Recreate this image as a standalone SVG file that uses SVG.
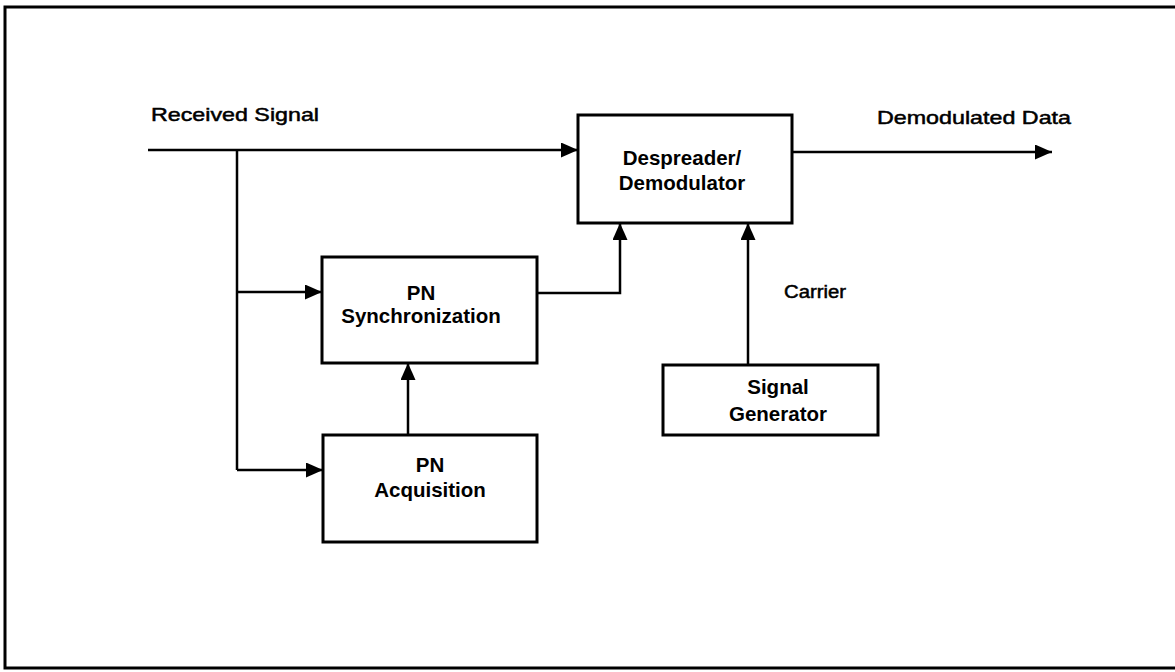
<svg xmlns="http://www.w3.org/2000/svg" width="1175" height="672" viewBox="0 0 1175 672">
<style>
.box{fill:#fff;stroke:#000;stroke-width:3}
.bt{font-family:"Liberation Sans",Arial,sans-serif;font-weight:bold;font-size:20.5px;text-anchor:middle;fill:#000}
.lb{font-family:"Liberation Sans",Arial,sans-serif;font-size:19px;fill:#000;stroke:#000;stroke-width:0.5}
.ln{fill:none;stroke:#000;stroke-width:2.5}
</style>
<defs>
<marker id="ah" markerWidth="17" markerHeight="15" refX="17" refY="7.5" orient="auto" markerUnits="userSpaceOnUse">
<path d="M0,0 L17,7.5 L0,15 Z" fill="#000"/>
</marker>
</defs>
<rect x="0" y="0" width="1175" height="672" fill="#fff"/>
<rect x="5" y="7" width="1190" height="661" fill="none" stroke="#000" stroke-width="3"/>
<g id="labels">
<text class="lb" x="151" y="121" textLength="168" lengthAdjust="spacingAndGlyphs">Received Signal</text>
<text class="lb" x="877" y="124" textLength="194" lengthAdjust="spacingAndGlyphs">Demodulated Data</text>
<text class="lb" x="784" y="298" textLength="62" lengthAdjust="spacingAndGlyphs" style="font-size:18px">Carrier</text>
</g>
<g id="connectors">
<path class="ln" d="M148,150 H578" marker-end="url(#ah)"/>
<path class="ln" d="M237,150 V470"/>
<path class="ln" d="M237,292 H322" marker-end="url(#ah)"/>
<path class="ln" d="M237,470 H323" marker-end="url(#ah)"/>
<path class="ln" d="M408,435 V363" marker-end="url(#ah)"/>
<path class="ln" d="M537,293 H620 V223" marker-end="url(#ah)"/>
<path class="ln" d="M748,365 V223" marker-end="url(#ah)"/>
<path class="ln" d="M792,152 H1052" marker-end="url(#ah)"/>
</g>
<g id="despreader">
<rect class="box" x="578" y="115" width="214" height="108"/>
<text class="bt" x="682" y="165">Despreader/</text>
<text class="bt" x="682" y="190">Demodulator</text>
</g>
<g id="pn-sync">
<rect class="box" x="322" y="257" width="215" height="106"/>
<text class="bt" x="421" y="300">PN</text>
<text class="bt" x="421" y="323">Synchronization</text>
</g>
<g id="pn-acq">
<rect class="box" x="323" y="435" width="214" height="107"/>
<text class="bt" x="430" y="472">PN</text>
<text class="bt" x="430" y="497">Acquisition</text>
</g>
<g id="signal-gen">
<rect class="box" x="663" y="365" width="215" height="70"/>
<text class="bt" x="778" y="394">Signal</text>
<text class="bt" x="778" y="421">Generator</text>
</g>
</svg>
